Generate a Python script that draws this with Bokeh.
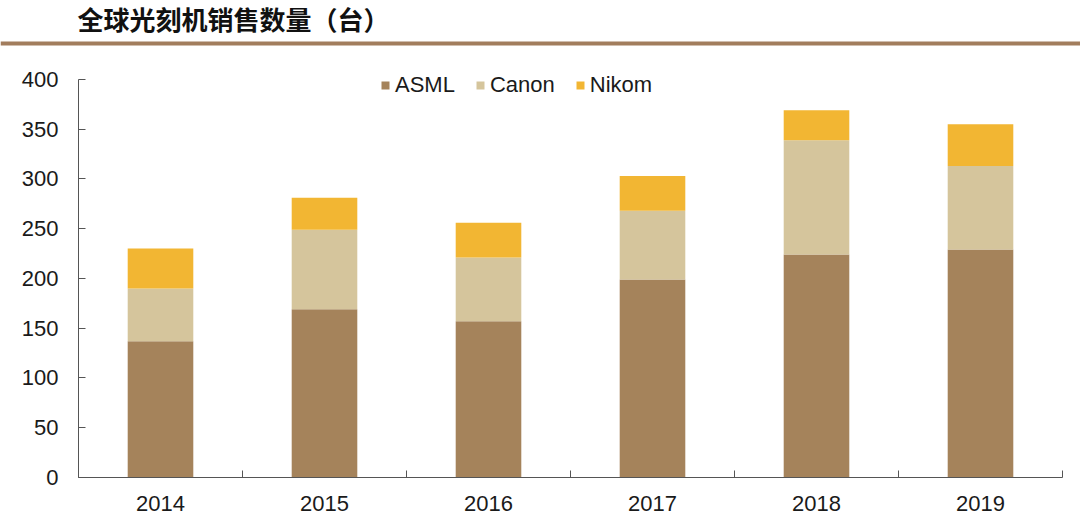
from bokeh.plotting import figure
from bokeh.models import ColumnDataSource, Range1d, FixedTicker
from bokeh.layouts import column
from bokeh.core.properties import value
from bokeh.embed import file_html
from bokeh.resources import INLINE

title_text = "全球光刻机销售数量（台）"
years = ["2014", "2015", "2016", "2017", "2018", "2019"]
asml = [137, 169, 157, 199, 224, 229]
canon = [53, 80, 64, 69, 115, 84]
nikom = [40, 32, 35, 35, 30, 42]
series = ["ASML", "Canon", "Nikom"]
colors = ["#a5835b", "#d5c59c", "#f2b633"]
y_ticks = [0, 50, 100, 150, 200, 250, 300, 350, 400]

FONT = "Liberation Sans"

# --- header (title + rule)
top = figure(width=1080, height=50, output_backend="svg", toolbar_location=None,
             x_range=Range1d(0, 1080), y_range=Range1d(50, 0),
             min_border=0, outline_line_color=None)
top.frame_align = False
top.axis.visible = False
top.grid.visible = False
top.text(x=[77], y=[18], text=[title_text], text_font=value("Noto Sans CJK SC"),
         text_font_size="26px", text_font_style="bold", text_color="#111111",
         text_baseline="middle", text_align="left")
top.segment(x0=[0], y0=[43], x1=[1080], y1=[43], line_color="#a27d5d", line_width=4)

# --- main chart
xs = [i + 0.5 for i in range(len(years))]
src = ColumnDataSource(dict(x=xs, ASML=asml, Canon=canon, Nikom=nikom))

p = figure(width=1080, height=476, output_backend="svg", toolbar_location=None,
           x_range=Range1d(0, len(years)), y_range=Range1d(0, 415),
           min_border_left=78, min_border_right=18, min_border_top=14, min_border_bottom=49,
           outline_line_color=None)
p.frame_align = False
p.vbar_stack(series, x="x", width=0.4, color=colors, source=src,
             legend_label=series, line_color=None)

p.grid.visible = False

p.xaxis.ticker = FixedTicker(ticks=xs, minor_ticks=list(range(len(years) + 1)))
p.xaxis.major_label_overrides = {x: y for x, y in zip(xs, years)}
p.xaxis.major_tick_in = 0
p.xaxis.major_tick_out = 0
p.xaxis.minor_tick_in = 7
p.xaxis.minor_tick_out = 0
p.xaxis.minor_tick_line_color = "#555555"
p.xaxis.axis_line_color = "#555555"
p.xaxis.major_label_standoff = 18
p.xaxis.major_label_text_font = FONT
p.xaxis.major_label_text_font_size = "22px"
p.xaxis.major_label_text_color = "#1a1a1a"

p.yaxis.ticker = FixedTicker(ticks=y_ticks)
p.yaxis.bounds = (0, 400)
p.yaxis.major_tick_in = 7
p.yaxis.major_tick_out = 0
p.yaxis.minor_tick_line_color = None
p.yaxis.axis_line_color = "#555555"
p.yaxis.major_tick_line_color = "#555555"
p.yaxis.major_label_standoff = 20
p.yaxis.major_label_text_font = FONT
p.yaxis.major_label_text_font_size = "22px"
p.yaxis.major_label_text_color = "#1a1a1a"

lg = p.legend[0]
lg.orientation = "horizontal"
lg.location = (302, 379)
lg.padding = 0
lg.margin = 0
lg.spacing = 20
lg.label_standoff = 5
lg.glyph_width = 10
lg.glyph_height = 10
lg.label_height = 20
lg.border_line_color = None
lg.background_fill_alpha = 0
lg.label_text_font = FONT
lg.label_text_font_size = "22px"
lg.label_text_color = "#1a1a1a"

layout = column(top, p, spacing=0)
open("out.html", "w").write(file_html(layout, INLINE))
